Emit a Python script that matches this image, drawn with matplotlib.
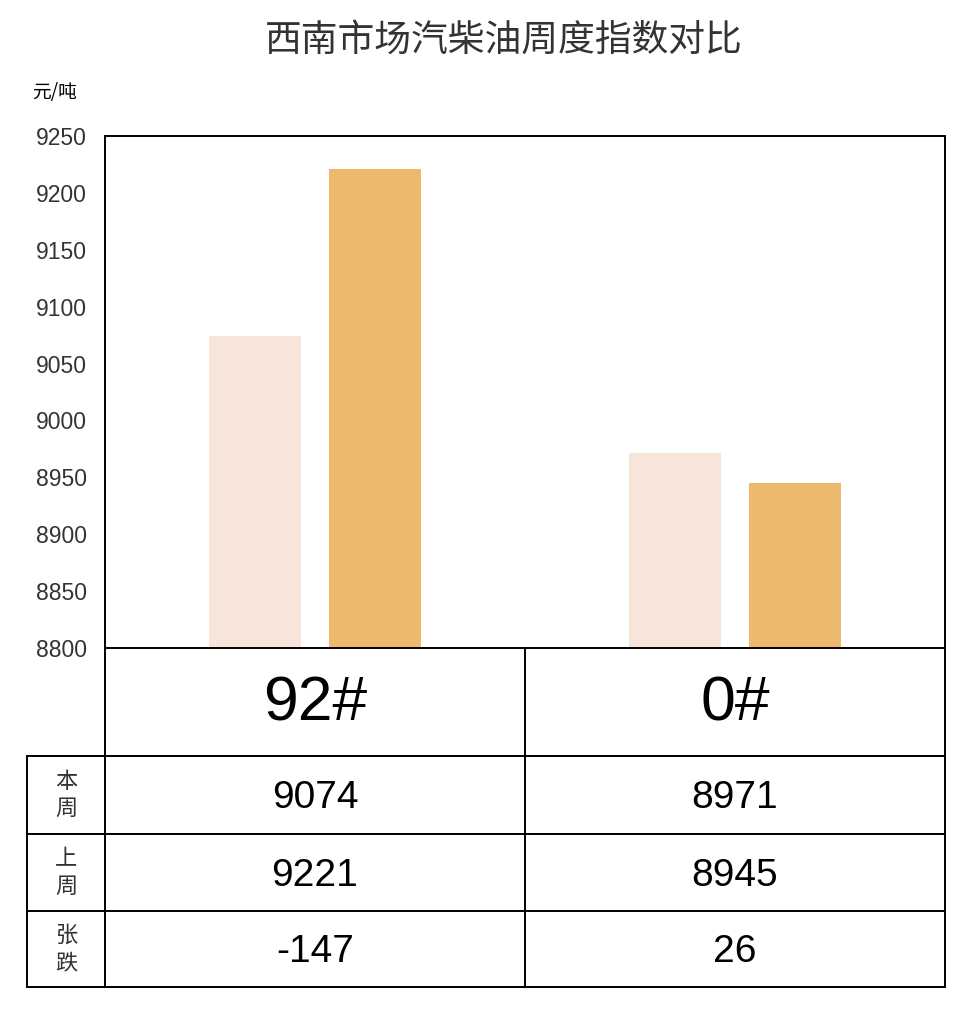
import matplotlib
matplotlib.use('Agg')
import matplotlib.pyplot as plt

plt.rcParams['font.family'] = ['Liberation Sans', 'Noto Sans CJK SC', 'DejaVu Sans']

# chart data
categories = ['92#', '0#']
this_week = [9074, 8971]
last_week = [9221, 8945]
change = [-147, 26]
row_labels = ['本周', '上周', '张跌']
y_ticks = [8800, 8850, 8900, 8950, 9000, 9050, 9100, 9150, 9200, 9250]

color_this = '#F7E4DA'
color_last = '#EDBA6D'

W, H = 964, 1010
fig = plt.figure(figsize=(W / 100, H / 100), dpi=100)
fig.patch.set_facecolor('white')

def fig_box(x0, y0, x1, y1):
    # pixel box (top-left origin) -> figure fraction rect
    return [x0 / W, 1 - y1 / H, (x1 - x0) / W, (y1 - y0) / H]

# bar chart
ax = fig.add_axes(fig_box(105, 136, 945, 648))
x = list(range(len(categories)))
bw = 0.217
off = 0.143
ax.bar([i - off for i in x], this_week, width=bw, color=color_this, zorder=2)
ax.bar([i + off for i in x], last_week, width=bw, color=color_last, zorder=2)
ax.set_xlim(-0.5, len(categories) - 0.5)
ax.set_ylim(y_ticks[0], y_ticks[-1])
ax.set_yticks(y_ticks)
ax.set_yticklabels([str(t) for t in y_ticks], fontsize=16.5, color='#333333')
ax.tick_params(axis='y', length=0, pad=13)
ax.set_xticks([])
for s in ax.spines.values():
    s.set_linewidth(1.4)
    s.set_color('black')
ax.text(-0.087, 1.085, '元/吨', transform=ax.transAxes, fontsize=13.5,
        family=['Noto Sans CJK SC'], ha='left', va='center', color='black')

fig.text(0.523, 1 - 40 / H, '西南市场汽柴油周度指数对比', fontsize=26.5,
         family=['Noto Sans CJK SC'], weight='light', color='#333333',
         ha='center', va='center')

# data table under the bars
tb = fig.add_axes(fig_box(27, 648, 945, 987))
head_w = 78 / 420
x_left = -0.5 - head_w
x_right = len(categories) - 0.5
tb.set_xlim(x_left, x_right)
row_edges = [0, 108, 186, 263, 339]
tb.set_ylim(row_edges[-1], row_edges[0])
tb.axis('off')
lw = 1.4
# horizontal lines
for yy in row_edges[1:]:
    tb.plot([x_left, x_right], [yy, yy], color='black', lw=lw, clip_on=False)
# vertical lines
tb.plot([x_left, x_left], [row_edges[1], row_edges[-1]], color='black', lw=lw, clip_on=False)
for k in range(len(categories) + 1):
    xx = k - 0.5
    tb.plot([xx, xx], [0, row_edges[-1]], color='black', lw=lw, clip_on=False)

for i, cat in enumerate(categories):
    tb.text(i, (row_edges[0] + row_edges[1]) / 2 + 2, cat, fontsize=45,
            ha='center', va='center', color='black')
    vals = [this_week[i], last_week[i], change[i]]
    for r, v in enumerate(vals):
        yc = (row_edges[r + 1] + row_edges[r + 2]) / 2 + 3
        tb.text(i, yc, str(v), fontsize=28, ha='center', va='center', color='black')

for r, lab in enumerate(row_labels):
    yc = (row_edges[r + 1] + row_edges[r + 2]) / 2
    tb.text((x_left - 0.5) / 2, yc, '\n'.join(lab), fontsize=16,
            family=['Noto Sans CJK SC'], ha='center', va='center',
            color='#333333', linespacing=1.25)

fig.savefig('out.png', dpi=100, facecolor='white')
